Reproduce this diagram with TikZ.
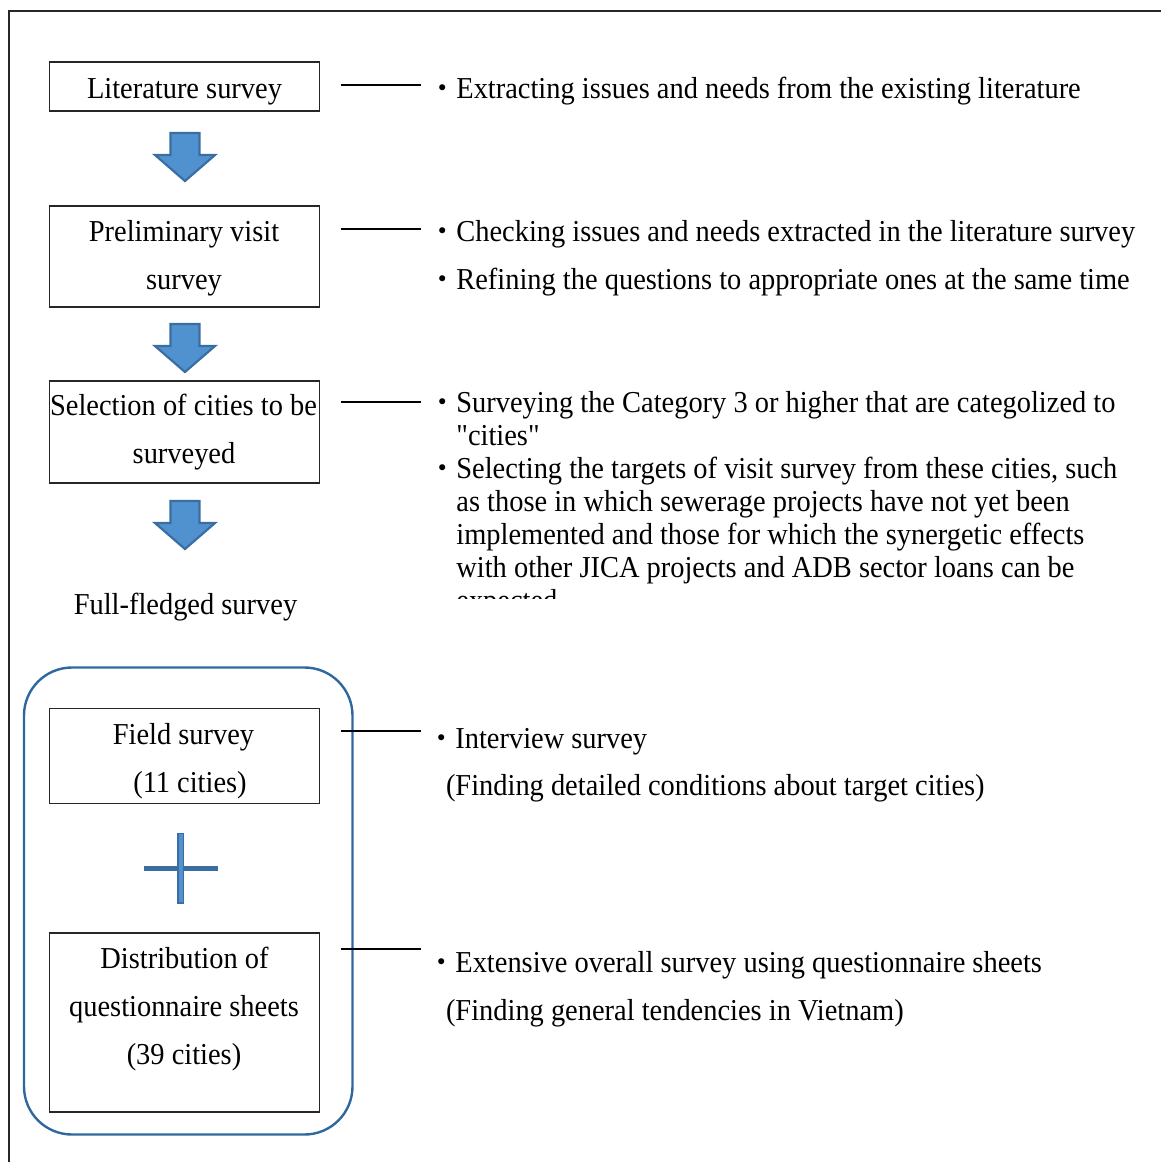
\documentclass[tikz,border=0pt]{standalone}
\usepackage{fontspec}
\setmainfont[FakeStretch=0.935,Ligatures=TeXOff]{Liberation Serif}
\newfontfamily\cjk{Noto Sans CJK JP}
\newcommand\bul{{\cjk\fontsize{28.4}{33}\selectfont ・}}
\definecolor{arrfill}{RGB}{80,146,207}
\definecolor{arrline}{RGB}{58,110,160}
\definecolor{grpline}{RGB}{47,104,158}
\definecolor{boxline}{RGB}{38,38,38}
\tikzset{
  every node/.style={font=\fontsize{30.4}{33}\selectfont, inner sep=0pt, outer sep=0pt},
  frame/.style={draw=boxline, line width=2pt},
  stepbox/.style={draw=boxline, line width=1.8pt, rectangle, minimum width=270pt},
  label/.style={anchor=base},
  note/.style={anchor=base west, align=left},
  lead/.style={draw=black, line width=1.2pt},
  blockarrow/.style={fill=arrfill, draw=arrline, line width=2.2pt, line join=miter},
  downarrow/.pic={\path[blockarrow] (-14.5,0) -- (14.5,0) -- (14.5,22) -- (30,22) -- (0,48)
                   -- (-30,22) -- (-14.5,22) -- cycle;},
}
\newcommand\para[1]{\parbox[t]{720pt}{\fontsize{30.4}{33}\selectfont\raggedright #1}}
\begin{document}
\begin{tikzpicture}[x=1pt,y=-1pt]
  \useasboundingbox (0,0) rectangle (1161,1162);
  % outer frame (top and left edges)
  \draw[frame] (9,1162) -- (9,11) -- (1161,11);

  % step boxes
  \node[stepbox, minimum height=49pt]  (lit)  at (184.5,86.5)  {};
  \node[stepbox, minimum height=101pt] (pre)  at (184.5,256.5) {};
  \node[stepbox, minimum height=102pt] (sel)  at (184.5,432)   {};
  \node[stepbox, minimum height=95pt]  (fld)  at (184.5,756)   {};
  \node[stepbox, minimum height=179pt] (dst)  at (184.5,1022.5){};

  % box captions
  \node[label] (litA) at (184.5,98.5)  {Literature survey};
  \node[label] (preA) at (184,241)     {Preliminary visit};
  \node[label] (preB) at (184,289)     {survey};
  \node[label] (selA) at (183.5,415)   {Selection of cities to be};
  \node[label] (selB) at (184,463)     {surveyed};
  \node[label] (ful)  at (185.5,614)   {Full-fledged survey};
  \node[label] (fldA) at (183.5,744)   {Field survey};
  \node[label] (fldB) at (184,792)     {\hspace{12pt}(11 cities)};
  \node[label] (dstA) at (184.5,968)   {Distribution of};
  \node[label] (dstB) at (184,1016)    {questionnaire sheets};
  \node[label] (dstC) at (184,1064)    {(39 cities)};

  % flow arrows between steps
  \pic at (185,133) {downarrow};
  \pic at (185,324) {downarrow};
  \pic at (185,501) {downarrow};

  % group frame for the full-fledged survey
  \draw[grpline, line width=2.4pt, rounded corners=48pt] (24,667.5) rectangle (352.5,1134.5);

  % plus sign
  \fill[arrline] (144,865.5) rectangle (218,870.5);
  \path[fill=arrfill, draw=arrline, line width=1.6pt] (178,833.5) rectangle (183.5,903);

  % leader lines
  \coordinate (l1a) at (341,85);  \coordinate (l1b) at (421,85);
  \coordinate (l2a) at (341,229); \coordinate (l2b) at (421,229);
  \coordinate (l3a) at (341,402); \coordinate (l3b) at (421,402);
  \coordinate (l4a) at (341,731); \coordinate (l4b) at (421,731);
  \coordinate (l5a) at (341,949); \coordinate (l5b) at (421,949);
  \draw[lead] (l1a) -- (l1b);
  \draw[lead] (l2a) -- (l2b);
  \draw[lead] (l3a) -- (l3b);
  \draw[lead] (l4a) -- (l4b);
  \draw[lead] (l5a) -- (l5b);

  % notes
  \node[note] (n1) at (428,98)  {\bul Extracting issues and needs from the existing literature};
  \node[note] (n2) at (428,241) {\bul Checking issues and needs extracted in the literature survey};
  \node[note] (n3) at (428,289) {\bul Refining the questions to appropriate ones at the same time};
  \begin{scope}
    \clip (400,370) rectangle (1161,598);
    \node[note] (n4) at (428,412) {\bul\para{Surveying the Category 3 or higher that are categolized to\\ "cities"}};
    \node[note] (n5) at (428,478) {\bul\para{Selecting the targets of visit survey from these cities, such\\
      as those in which sewerage projects have not yet been\\
      implemented and those for which the synergetic effects\\
      with other JICA projects and ADB sector loans can be\\
      expected}};
  \end{scope}
  \node[note] (n6) at (427,748)  {\bul Interview survey};
  \node[note] (n7) at (446,795)  {(Finding detailed conditions about target cities)};
  \node[note] (n8) at (427,972)  {\bul Extensive overall survey using questionnaire sheets};
  \node[note] (n9) at (446,1020) {(Finding general tendencies in Vietnam)};
\end{tikzpicture}
\end{document}
